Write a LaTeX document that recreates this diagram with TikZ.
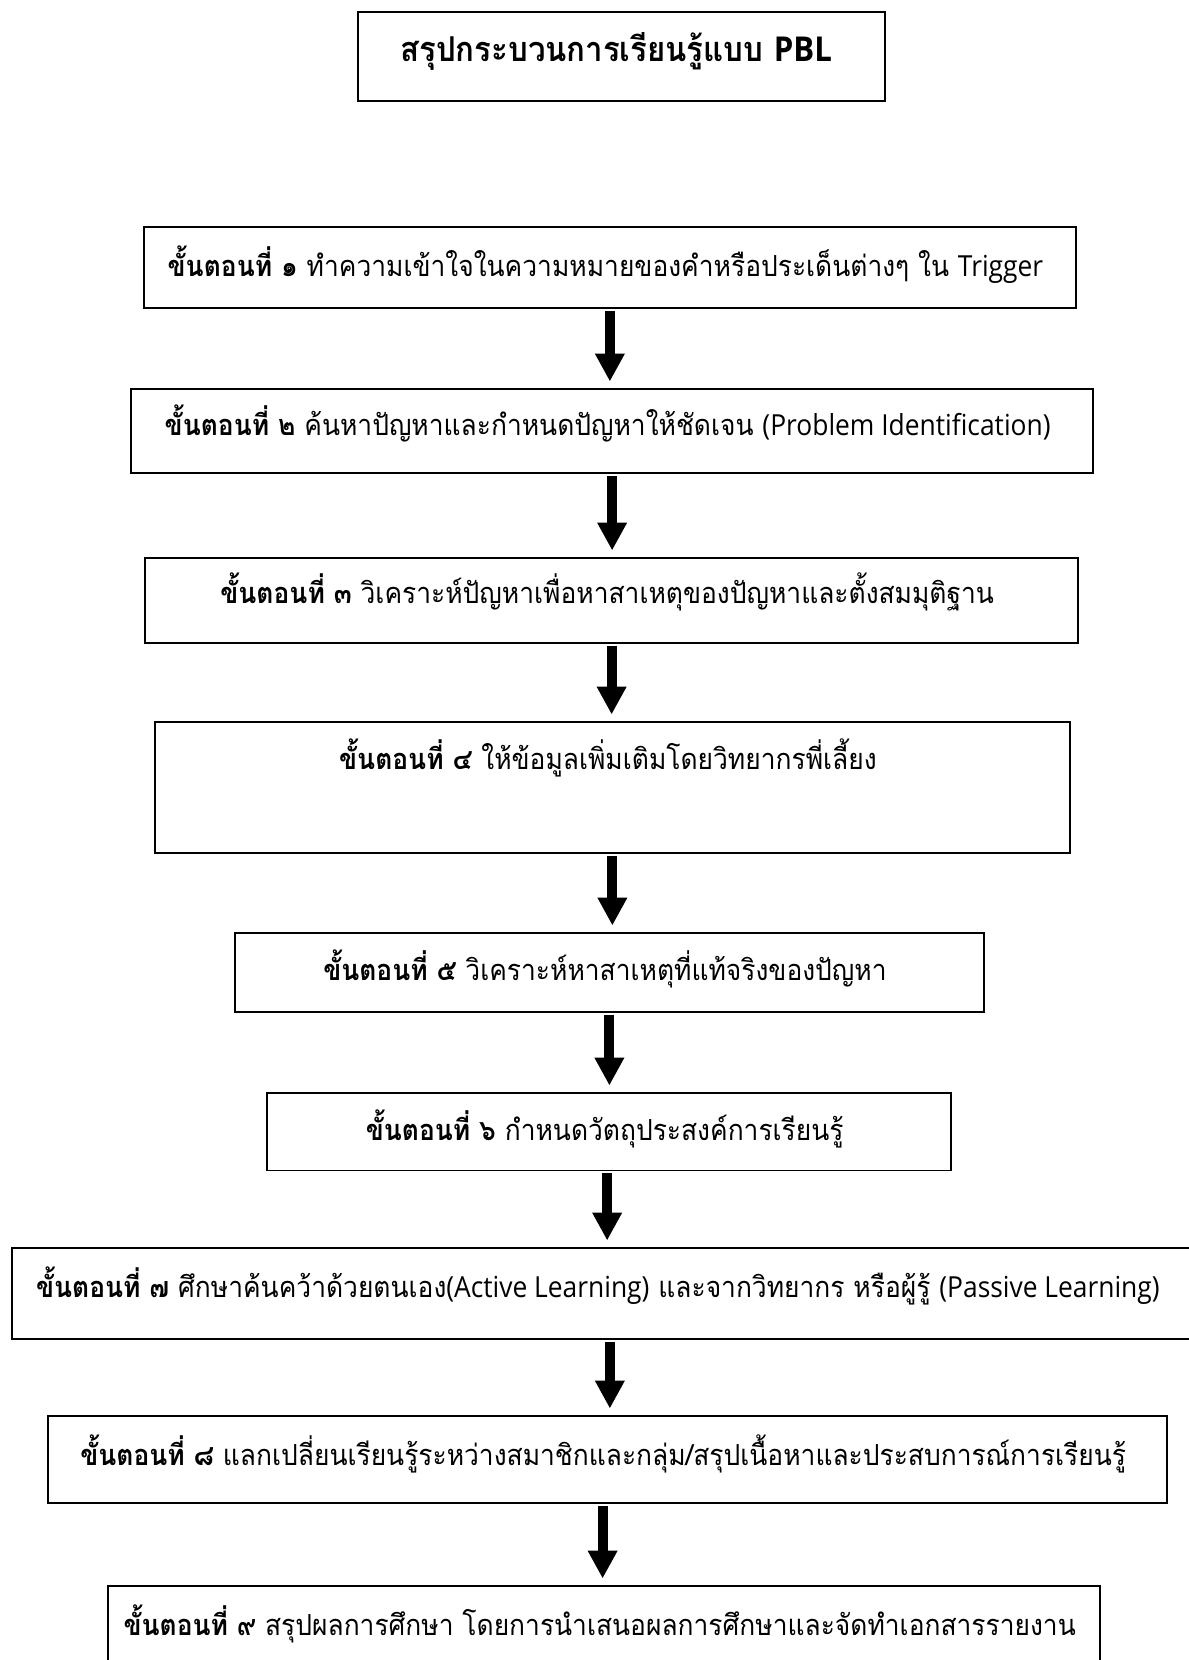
\documentclass[tikz,border=0pt]{standalone}
\usepackage{fontspec}
\setmainfont{Loma}[Script=Thai, FakeStretch=0.91]
\newfontfamily\latinfont{Open Sans}[FakeStretch=0.91]
\newcommand{\en}[1]{{\latinfont #1}}
\usetikzlibrary{arrows.meta}

\begin{document}
\begin{tikzpicture}[x=0.02cm, y=-0.02cm,
    stepbox/.style={draw, line width=1.1pt, rectangle, anchor=north west,
        inner xsep=0pt, inner ysep=0pt, align=center,
        font=\fontsize{16.5}{20}\selectfont},
    flowarrow/.style={line width=0.2cm, -{Triangle[width=0.56cm, length=0.56cm]},
        shorten <=0.04cm, shorten >=0.13cm}]
    \useasboundingbox (0,0) rectangle (1189,1660);

    \node[stepbox, minimum width=10.54cm, text height=1.0cm, text depth=0.79cm,
        font=\fontsize{19.5}{22}\selectfont] (title) at (357,11) {
        \textbf{สรุปกระบวนการเรียนรู้แบบ \en{PBL}}
    };

    \node[stepbox, minimum width=18.64cm, text height=1.0cm, text depth=0.62cm] (box1) at (143,226) {
        \textbf{ขั้นตอนที่ ๑} ทำความเข้าใจในความหมายของคำหรือประเด็นต่างๆ ใน \en{Trigger}
    };
    \node[stepbox, minimum width=19.25cm, text height=0.94cm, text depth=0.75cm] (box2) at (130,388) {
        \textbf{ขั้นตอนที่ ๒} ค้นหาปัญหาและกำหนดปัญหาให้ชัดเจน \en{(Problem Identification)}
    };
    \node[stepbox, minimum width=18.67cm, text height=0.91cm, text depth=0.79cm] (box3) at (144,557) {
        \textbf{ขั้นตอนที่ ๓} วิเคราะห์ปัญหาเพื่อหาสาเหตุของปัญหาและตั้งสมมุติฐาน
    };
    \node[stepbox, minimum width=18.3cm, text height=0.96cm, text depth=1.66cm] (box4) at (154,721) {
        \textbf{ขั้นตอนที่ ๔} ให้ข้อมูลเพิ่มเติมโดยวิทยากรพี่เลี้ยง
    };
    \node[stepbox, minimum width=14.98cm, text height=0.96cm, text depth=0.62cm] (box5) at (234,932) {
        \textbf{ขั้นตอนที่ ๕} วิเคราะห์หาสาเหตุที่แท้จริงของปัญหา
    };
    \node[stepbox, minimum width=13.69cm, text height=0.96cm, text depth=0.59cm] (box6) at (266,1092) {
        \textbf{ขั้นตอนที่ ๖} กำหนดวัตถุประสงค์การเรียนรู้
    };
    \node[stepbox, minimum width=23.62cm, text height=0.99cm, text depth=0.83cm] (box7) at (11,1247) {
        \textbf{ขั้นตอนที่ ๗} ศึกษาค้นคว้าด้วยตนเอง\en{(Active Learning)} และจากวิทยากร หรือผู้รู้ \en{(Passive Learning)}
    };
    \node[stepbox, minimum width=22.39cm, text height=0.99cm, text depth=0.75cm] (box8) at (47,1415) {
        \textbf{ขั้นตอนที่ ๘} แลกเปลี่ยนเรียนรู้ระหว่างสมาชิกและกลุ่ม/สรุปเนื้อหาและประสบการณ์การเรียนรู้
    };
    \node[stepbox, minimum width=19.85cm, text height=1.0cm, text depth=0.74cm] (box9) at (107,1585) {
        \textbf{ขั้นตอนที่ ๙} สรุปผลการศึกษา โดยการนำเสนอผลการศึกษาและจัดทำเอกสารรายงาน
    };

    \draw[flowarrow] (box1.south) -- (box1.south |- box2.north);
    \draw[flowarrow] (box2.south) -- (box2.south |- box3.north);
    \draw[flowarrow] (box3.south) -- (box3.south |- box4.north);
    \draw[flowarrow] (box4.south) -- (box4.south |- box5.north);
    \draw[flowarrow] (box5.south) -- (box5.south |- box6.north);
    \draw[flowarrow] ([xshift=-0.04cm]box6.south) -- ([xshift=-0.04cm]box6.south |- box7.north);
    \draw[flowarrow] ([xshift=0.15cm]box7.south) -- ([xshift=0.15cm]box7.south |- box8.north);
    \draw[flowarrow] ([xshift=-0.1cm]box8.south) -- ([xshift=-0.1cm]box8.south |- box9.north);
\end{tikzpicture}
\end{document}
